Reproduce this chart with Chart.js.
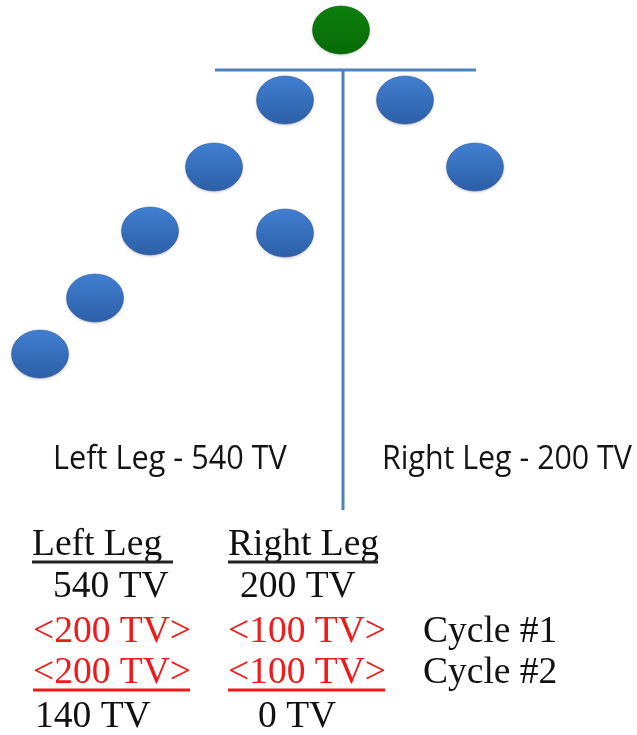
<!DOCTYPE html>
<html>
<head>
<meta charset="utf-8">
<script src="https://cdn.jsdelivr.net/npm/chart.js@4"></script>
<style>
html,body{margin:0;padding:0;background:#fff;}
#wrap{width:637px;height:735px;position:relative;}
</style>
</head>
<body>
<div id="wrap"><canvas id="c" width="637" height="735"></canvas></div>
<script>
// ---- data (diagram coordinates) ----
const sponsorNode = [{x: 341, y: 30}];
const downlineNodes = [
  {x: 285, y: 100}, {x: 405, y: 100},
  {x: 214, y: 167}, {x: 475, y: 167},
  {x: 150, y: 231}, {x: 285, y: 233},
  {x: 95, y: 298},
  {x: 40, y: 354}
];
const crossBar = [{x: 215, y: 70}, {x: 476, y: 70}];
const stem = [{x: 343, y: 70}, {x: 343, y: 510}];

const legLabels = ['Left Leg - 540 TV', 'Right Leg - 200 TV'];
const tableHeaders = ['Left Leg', 'Right Leg'];
const startVolumes = ['540 TV', '200 TV'];
const cycle1 = ['<200 TV>', '<100 TV>'];
const cycle2 = ['<200 TV>', '<100 TV>'];
const remaining = ['140 TV', '0 TV'];
const cycleLabels = ['Cycle #1', 'Cycle #2'];

// ---- node sprites ----
function makeNode(top, bottom, edge) {
  const w = 66, h = 58;
  const cv = document.createElement('canvas');
  cv.width = w; cv.height = h;
  const g = cv.getContext('2d');
  g.save();
  g.shadowColor = 'rgba(0,0,0,0.25)';
  g.shadowBlur = 3;
  g.shadowOffsetY = 1;
  const grad = g.createLinearGradient(0, h/2 - 24, 0, h/2 + 24);
  grad.addColorStop(0, top);
  grad.addColorStop(1, bottom);
  g.fillStyle = grad;
  g.beginPath();
  g.ellipse(w/2, h/2, 28.5, 24, 0, 0, Math.PI * 2);
  g.fill();
  g.restore();
  g.strokeStyle = edge;
  g.lineWidth = 1;
  g.beginPath();
  g.ellipse(w/2, h/2, 28.5, 24, 0, 0, Math.PI * 2);
  g.stroke();
  return cv;
}
const blueNode = makeNode('#417fd1', '#2c5fa7', 'rgba(40,80,150,0.5)');
const greenNode = makeNode('#0c800c', '#076a07', 'rgba(0,80,0,0.5)');

// ---- text plugin ----
const textPlugin = {
  id: 'textPlugin',
  afterDatasetsDraw(chart) {
    const ctx = chart.ctx;
    const xs = chart.scales.x, ys = chart.scales.y;
    const X = v => xs.getPixelForValue(v), Y = v => ys.getPixelForValue(v);
    ctx.save();
    ctx.textBaseline = 'alphabetic';
    ctx.textAlign = 'left';

    function fitText(str, x0, x1, base, family, color, vStretch) {
      ctx.font = '30px ' + family;
      const w = ctx.measureText(str).width;
      const size = 30 * (X(x1) - X(x0)) / w;
      ctx.font = size.toFixed(2) + 'px ' + family;
      ctx.fillStyle = color;
      ctx.save();
      ctx.translate(X(x0), Y(base));
      ctx.scale(1, vStretch);
      ctx.fillText(str, 0, 0);
      ctx.restore();
    }
    const sans = '"Open Sans", sans-serif';
    fitText(legLabels[0], 53, 287, 469, sans, '#151515', 1.05);
    fitText(legLabels[1], 382, 632, 469, sans, '#151515', 1.05);

    const serif = '"Liberation Serif", "Times New Roman", serif';
    function serifText(str, x, base, color) {
      ctx.font = '37.5px ' + serif;
      ctx.fillStyle = color;
      ctx.fillText(str, X(x), Y(base));
    }
    function rule(x0, x1, yv, color) {
      ctx.fillStyle = color;
      ctx.fillRect(X(x0), Y(yv) - 1.5, X(x1) - X(x0), 3);
    }
    const red = '#f01a1a';
    serifText(tableHeaders[0], 32, 555, '#111');
    serifText(tableHeaders[1], 228, 555, '#111');
    rule(32, 173, 562, '#222');
    rule(228, 378, 562, '#222');
    serifText(startVolumes[0], 53, 597, '#111');
    serifText(startVolumes[1], 240, 597, '#111');
    serifText(cycle1[0], 33, 642, red);
    serifText(cycle1[1], 228, 642, red);
    serifText(cycleLabels[0], 423, 642, '#111');
    serifText(cycle2[0], 33, 683, red);
    serifText(cycle2[1], 228, 683, red);
    serifText(cycleLabels[1], 423, 683, '#111');
    rule(33, 190, 690, red);
    rule(228, 385, 690, red);
    serifText(remaining[0], 35, 727, '#111');
    serifText(remaining[1], 258, 727, '#111');
    ctx.restore();
  }
};

new Chart(document.getElementById('c'), {
  type: 'scatter',
  data: {
    datasets: [
      {data: crossBar, showLine: true, borderColor: '#4f81bd', borderWidth: 3, pointRadius: 0, order: 3, clip: false},
      {data: stem, showLine: true, borderColor: '#4f81bd', borderWidth: 3, pointRadius: 0, order: 3, clip: false},
      {data: downlineNodes, pointStyle: blueNode, pointRadius: 28, order: 1, clip: false},
      {data: sponsorNode, pointStyle: greenNode, pointRadius: 28, order: 1, clip: false}
    ]
  },
  options: {
    responsive: false,
    animation: false,
    events: [],
    layout: {padding: 0, autoPadding: false},
    plugins: {legend: {display: false}, tooltip: {enabled: false}},
    scales: {
      x: {type: 'linear', min: 0, max: 637, display: false},
      y: {type: 'linear', min: 0, max: 735, reverse: true, display: false}
    }
  },
  plugins: [textPlugin]
});
</script>
</body>
</html>
